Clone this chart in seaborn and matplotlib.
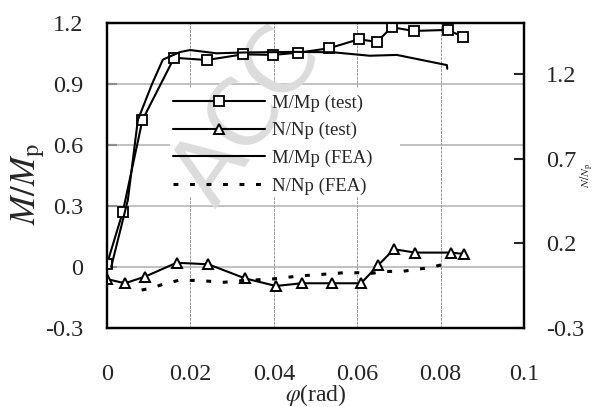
import numpy as np
import pandas as pd
import matplotlib
matplotlib.use("Agg")
import matplotlib.pyplot as plt
from matplotlib.patches import Rectangle
import seaborn as sns

# ---- data ----
m_test_phi = [0.0, 0.0038, 0.0085, 0.0161, 0.0239, 0.0327, 0.0397, 0.0459,
              0.0533, 0.0604, 0.0647, 0.0683, 0.0736, 0.0817, 0.0853]
m_test_val = [0.015, 0.272, 0.723, 1.029, 1.018, 1.046, 1.043, 1.054,
              1.076, 1.120, 1.107, 1.179, 1.161, 1.166, 1.133]

n_test_phi = [0.0001, 0.0043, 0.0091, 0.0167, 0.0243, 0.0331, 0.0405, 0.0467,
              0.0539, 0.0609, 0.0651, 0.0688, 0.0739, 0.0824, 0.0857]
n_test_val = [-0.012, -0.036, 0.003, 0.085, 0.076, -0.007, -0.052, -0.036,
              -0.036, -0.036, 0.072, 0.165, 0.145, 0.145, 0.137]

m_fea_phi = [0.0010, 0.0050, 0.0074, 0.0108, 0.0134, 0.0175, 0.0199, 0.0263,
             0.0330, 0.0450, 0.0542, 0.0630, 0.0695, 0.0815, 0.0816]
m_fea_val = [0.000, 0.330, 0.723, 0.900, 1.020, 1.057, 1.067, 1.051,
             1.055, 1.058, 1.056, 1.039, 1.043, 0.993, 0.975]

n_fea_phi = [0.0083, 0.0103, 0.0143, 0.0175, 0.0220, 0.0280, 0.0330, 0.0400,
             0.0460, 0.0530, 0.0567, 0.0604, 0.0635, 0.0670, 0.0707, 0.0743,
             0.0778, 0.0810]
n_fea_val = [-0.076, -0.066, -0.036, -0.017, -0.020, -0.030, -0.020, -0.010,
             0.007, 0.019, 0.026, 0.026, 0.023, 0.034, 0.034, 0.046,
             0.058, 0.078]

x_ticks = [0, 0.02, 0.04, 0.06, 0.08, 0.1]
x_labels = ["0", "0.02", "0.04", "0.06", "0.08", "0.1"]
left_ticks = [-0.3, 0, 0.3, 0.6, 0.9, 1.2]
left_labels = ["-0.3", "0", "0.3", "0.6", "0.9", "1.2"]
right_ticks = [-0.3, 0.2, 0.7, 1.2]
right_labels = ["-0.3", "0.2", "0.7", "1.2"]

# ---- style ----
sns.set_style("white")
plt.rcParams["font.family"] = ["Liberation Serif", "DejaVu Serif"]
plt.rcParams["mathtext.fontset"] = "stix"
plt.rcParams["axes.unicode_minus"] = False

fig = plt.figure(figsize=(5.96, 4.07), dpi=100)
ax = fig.add_axes([107 / 596, 1 - 328 / 407, (524 - 107) / 596, (328 - 23) / 407])
ax2 = ax.twinx()

# white panel behind the legend (hides grid), watermark above it
ax.add_patch(Rectangle((0.151, 0.43), 0.552, 0.357, transform=ax.transAxes,
                       facecolor="white", edgecolor="none", zorder=0.9))
ax.text(214 / 596, 1 - 209 / 407, "ACC", transform=fig.transFigure,
        rotation=55, rotation_mode="anchor", fontsize=66, color="#dcdcdc",
        family="DejaVu Sans", ha="left", va="baseline", zorder=1.0,
        clip_on=False)

lw = 1.5
sns.lineplot(x=m_test_phi, y=m_test_val, ax=ax, color="black", lw=lw,
             marker="s", markersize=6.5, markerfacecolor="white",
             markeredgecolor="black", markeredgewidth=1.3, sort=False,
             estimator=None, label="M/Mp (test)", legend=False, zorder=3)
sns.lineplot(x=m_fea_phi, y=m_fea_val, ax=ax, color="black", lw=lw,
             sort=False, estimator=None, label="M/Mp (FEA)", legend=False,
             zorder=3)
sns.lineplot(x=n_test_phi, y=n_test_val, ax=ax2, color="black", lw=lw,
             marker="^", markersize=7.5, markerfacecolor="white",
             markeredgecolor="black", markeredgewidth=1.4, sort=False,
             estimator=None, label="N/Np (test)", legend=False)
sns.lineplot(x=n_fea_phi, y=n_fea_val, ax=ax2, color="black", lw=2.2,
             linestyle=(0, (1.6, 3.8)), sort=False, estimator=None,
             label="N/Np (FEA)", legend=False)

ax.set_xlim(0, 0.1)
ax.set_ylim(-0.3, 1.2)
ax2.set_ylim(-0.3, 1.5)

ax.set_xticks(x_ticks)
ax.set_xticklabels(x_labels)
ax.set_yticks(left_ticks)
ax.set_yticklabels(left_labels)
ax2.set_yticks(right_ticks)
ax2.set_yticklabels(right_labels)

# grid
for yv in [0, 0.3, 0.6, 0.9]:
    ax.axhline(yv, color="#b0b0b0", lw=1.1, zorder=0.8)
for xv in [0.02, 0.04, 0.06, 0.08]:
    ax.axvline(xv, color="#9a9a9a", lw=0.7, ls=(0, (3, 1)), zorder=0.8)

tick_fs = 17.5
ax.tick_params(axis="both", direction="in", length=7, width=1.5,
               labelsize=tick_fs, top=False, right=False)
ax.tick_params(axis="y", pad=17)
ax.tick_params(axis="x", pad=26)
ax2.tick_params(axis="y", direction="in", length=7, width=1.5,
                labelsize=tick_fs, pad=16)

for a in (ax, ax2):
    for s in a.spines.values():
        s.set_linewidth(1.6)
        s.set_color("black")
        s.set_visible(True)

ax.set_xlabel(r"$\varphi$(rad)", fontsize=17, labelpad=-2)
ax.set_ylabel(r"$M/M_{\mathrm{p}}$", fontsize=25)
ax.yaxis.set_label_coords(-0.145, 0.47)
ax2.set_ylabel(r"$N/N_{\mathrm{p}}$", fontsize=8.5, rotation=90)
ax2.yaxis.set_label_coords(1.131, 0.50)

# legend (transparent frame; white panel above hides the grid)
h1, l1 = ax.get_legend_handles_labels()
h2, l2 = ax2.get_legend_handles_labels()
hd = dict(zip(l1 + l2, h1 + h2))
order = ["M/Mp (test)", "N/Np (test)", "M/Mp (FEA)", "N/Np (FEA)"]
leg = ax2.legend([hd[k] for k in order], order, loc="upper left",
                 bbox_to_anchor=(0.123, 0.815), fontsize=13.5, frameon=False,
                 handlelength=4.9, handletextpad=0.35, labelspacing=0.55,
                 borderpad=0.3, numpoints=1)

fig.savefig("out.png", dpi=100)
